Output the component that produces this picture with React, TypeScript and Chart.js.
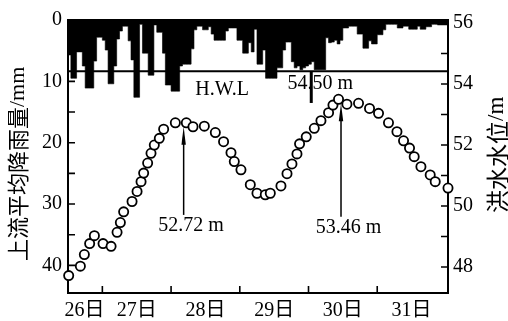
import { useEffect, useRef } from 'react';
import { Chart, registerables } from 'chart.js';

Chart.register(...registerables);

const FONT = "'Liberation Serif', 'Noto Sans CJK SC', serif";
const CJK_FONT = "'Noto Sans CJK SC', sans-serif";

// Hourly upstream mean rainfall (mm), starting at hour 12 of the 26th
const rainfallStartHour = 12;
const rainfallMm = [
  9.5, 5.7, 9.5, 9.5, 5.2, 5.2, 7.5, 11.1, 11.1, 11.1,
  6.7, 2.8, 2.8, 3.3, 4.9, 10.4, 10.4, 7.5, 3.1, 1.8,
  1.0, 1.0, 3.4, 6.5, 12.6, 12.6, 0.7, 5.4, 5.4, 9.0,
  9.0, 0.8, 2.0, 2.0, 5.4, 10.6, 10.6, 11.6, 11.6, 11.6,
  7.5, 7.2, 7.2, 7.2, 4.7, 1.6, 1.0, 1.0, 1.6, 1.6,
  1.1, 2.3, 3.3, 3.3, 3.3, 3.3, 1.8, 1.3, 1.3, 1.3,
  3.3, 3.3, 5.4, 5.4, 3.7, 5.2, 1.5, 7.2, 7.2, 4.9,
  9.5, 9.5, 9.5, 9.5, 7.8, 7.8, 4.9, 3.6, 3.6, 6.8,
  7.8, 7.5, 8.1, 7.8, 7.5, 7.2, 6.8, 8.1, 8.1, 8.1,
  8.1, 2.9, 3.7, 3.6, 3.3, 3.9, 3.3, 1.3, 1.3, 1.0,
  1.0, 1.0, 2.3, 2.3, 4.6, 4.6, 3.4, 3.9, 3.9, 2.4,
  2.4, 1.6, 0.7, 0.7, 0.7, 0.7, 1.3, 1.3, 1.0, 1.0,
  1.5, 1.5, 1.5, 1.0, 1.5, 1.5, 1.1, 1.1, 0.7, 0.7,
  0.8, 0.8, 0.8,
];

// Flood water level observations (day offset from start of the 26th, metres)
const levelDay = [
  0.51, 0.68, 0.738, 0.815, 0.884, 1.01, 1.127, 1.214, 1.262, 1.31,
  1.432, 1.505, 1.563, 1.601, 1.659, 1.708, 1.756, 1.829, 1.892, 2.062,
  2.222, 2.319, 2.484, 2.644, 2.764, 2.872, 2.92, 3.017, 3.153, 3.25,
  3.371, 3.444, 3.599, 3.687, 3.759, 3.832, 3.87, 3.967, 4.084, 4.181,
  4.292, 4.356, 4.437, 4.559, 4.728, 4.888, 5.019, 5.164, 5.287, 5.383,
  5.47, 5.538, 5.636, 5.771, 5.844, 6.03,
];
const levelM = [
  47.72, 48.03, 48.41, 48.77, 49.03, 48.77, 48.68, 49.14, 49.46, 49.81,
  50.15, 50.48, 50.8, 51.08, 51.41, 51.73, 52.0, 52.22, 52.52, 52.73,
  52.73, 52.6, 52.62, 52.41, 52.11, 51.75, 51.46, 51.19, 50.7, 50.42,
  50.37, 50.42, 50.66, 51.06, 51.38, 51.71, 52.04, 52.27, 52.55, 52.8,
  53.06, 53.31, 53.5, 53.34, 53.37, 53.2, 53.04, 52.73, 52.44, 52.14,
  51.9, 51.62, 51.29, 51.02, 50.8, 50.59,
];

const dayLabels = ['26日', '27日', '28日', '29日', '30日', '31日'];
const dayLabelPos = [0.74, 1.5, 2.5, 3.5, 4.5, 5.5];
const dayTicks = [1, 2, 3, 4, 5];
const rainTicks = [0, 10, 20, 30, 40];
const rainMinorTicks = [5, 10, 15, 20, 25, 30, 35, 40];
const levelTicks = [48, 50, 52, 54, 56];
const levelMinorTicks = [48, 49, 50, 51, 52, 53, 54, 55, 56];

const hwlLevel = 54.42;
const hwlText = 'H.W.L';
const hwlTextAt = { day: 2.353, level: 53.8 };
const hwlValueText = '54.50 m';
const hwlValueAt = { day: 4.171, level: 54.0 };
const hwlLeader = { day: 4.04, bottom: 53.38 };

const peakDay = [2.183, 4.473];
const peakTop = [52.6, 53.37];
const peakBottom = [49.71, 49.65];
const peakText = ['52.72 m', '53.46 m'];

const leftTitle = '上流平均降雨量/mm';
const rightTitle = '洪水水位/m';

// rainfall steps: each hour's value held from its start to the next hour
const rainSteps = rainfallMm
  .map((v, i) => ({ x: (rainfallStartHour + i) / 24, y: v }))
  .concat([{ x: (rainfallStartHour + rainfallMm.length) / 24, y: rainfallMm[rainfallMm.length - 1] }]);

// vertical title read bottom-to-top, laid out glyph by glyph
function drawVerticalTitle(ctx: any, text: string, cx: number, bottom: number, size: number) {
  ctx.save();
  ctx.fillStyle = '#000';
  ctx.textAlign = 'left';
  ctx.textBaseline = 'middle';
  ctx.translate(cx, bottom);
  ctx.rotate(-Math.PI / 2);
  let pos = 0;
  for (const ch of Array.from(text)) {
    const cjk = ch.charCodeAt(0) > 0x2e80;
    if (cjk) {
      ctx.font = `${size}px ${CJK_FONT}`;
      ctx.fillText(ch, pos, 0);
      pos += size;
    } else {
      ctx.font = `${size}px 'Liberation Serif', serif`;
      ctx.fillText(ch, pos, 0);
      pos += ctx.measureText(ch).width;
    }
  }
  ctx.restore();
}

const decor = {
  id: 'decor',
  beforeDatasetsDraw(chart: any) {
    const { ctx, chartArea: a, scales } = chart;
    const x = scales.x, yL = scales.yL, yR = scales.yR;
    ctx.save();
    ctx.strokeStyle = '#000';
    ctx.fillStyle = '#000';
    ctx.lineWidth = 2;
    ctx.strokeRect(a.left, a.top, a.right - a.left, a.bottom - a.top);
    ctx.lineWidth = 1.6;
    ctx.beginPath();
    dayTicks.forEach((d) => {
      const px = x.getPixelForValue(d);
      ctx.moveTo(px, a.bottom);
      ctx.lineTo(px, a.bottom - 7);
    });
    rainMinorTicks.forEach((v) => {
      const py = yL.getPixelForValue(v);
      ctx.moveTo(a.left, py);
      ctx.lineTo(a.left + 7, py);
    });
    levelMinorTicks.forEach((v) => {
      const py = yR.getPixelForValue(v);
      ctx.moveTo(a.right, py);
      ctx.lineTo(a.right - 7, py);
    });
    ctx.stroke();
    ctx.lineWidth = 2;
    const hy = yR.getPixelForValue(hwlLevel);
    ctx.beginPath();
    ctx.moveTo(a.left, hy);
    ctx.lineTo(a.right, hy);
    ctx.stroke();
    ctx.lineWidth = 3;
    const lx = x.getPixelForValue(hwlLeader.day);
    ctx.beginPath();
    ctx.moveTo(lx, hy);
    ctx.lineTo(lx, yR.getPixelForValue(hwlLeader.bottom));
    ctx.stroke();
    peakDay.forEach((d, i) => {
      const px = x.getPixelForValue(d);
      const t = yR.getPixelForValue(peakTop[i]);
      const b = yR.getPixelForValue(peakBottom[i]);
      ctx.lineWidth = 1.5;
      ctx.beginPath();
      ctx.moveTo(px, b);
      ctx.lineTo(px, t + 10);
      ctx.stroke();
      ctx.beginPath();
      ctx.moveTo(px, t);
      ctx.lineTo(px - 2.2, t + 18);
      ctx.lineTo(px + 2.2, t + 18);
      ctx.closePath();
      ctx.fill();
      ctx.font = `20px ${FONT}`;
      ctx.textAlign = 'center';
      ctx.textBaseline = 'middle';
      ctx.fillText(peakText[i], px + 7.5, b + 11);
    });
    ctx.font = `20px ${FONT}`;
    ctx.textAlign = 'left';
    ctx.textBaseline = 'middle';
    ctx.fillText(hwlText, x.getPixelForValue(hwlTextAt.day), yR.getPixelForValue(hwlTextAt.level));
    ctx.textAlign = 'center';
    ctx.fillText(hwlValueText, x.getPixelForValue(hwlValueAt.day), yR.getPixelForValue(hwlValueAt.level));
    ctx.restore();
  },
  afterDraw(chart: any) {
    const { ctx, chartArea: a } = chart;
    drawVerticalTitle(ctx, leftTitle, 18, 261, 22);
    drawVerticalTitle(ctx, rightTitle, a.right + 49, 213, 23);
  },
};

export default function App() {
  const ref = useRef<HTMLCanvasElement>(null);
  useEffect(() => {
    const chart = new Chart(ref.current as HTMLCanvasElement, {
      type: 'line',
      data: {
        datasets: [
          {
            label: 'level',
            data: levelDay.map((d, i) => ({ x: d, y: levelM[i] })),
            showLine: false,
            pointRadius: 4.6,
            pointBorderWidth: 1.8,
            pointBackgroundColor: '#fff',
            pointBorderColor: '#000',
            xAxisID: 'x',
            yAxisID: 'yR',
            clip: false,
            order: 0,
          } as any,
          {
            label: 'rain',
            data: rainSteps,
            stepped: 'after',
            fill: 'origin',
            backgroundColor: '#000',
            borderColor: '#000',
            borderWidth: 0.6,
            pointRadius: 0,
            xAxisID: 'x',
            yAxisID: 'yL',
            order: 1,
          } as any,
        ],
      },
      options: {
        animation: false,
        responsive: true,
        maintainAspectRatio: false,
        layout: { padding: { top: 20, left: 0, right: 0, bottom: 0 } },
        plugins: { legend: { display: false }, tooltip: { enabled: false } },
        scales: {
          x: {
            type: 'linear',
            position: 'bottom',
            offset: false,
            min: 0.5,
            max: 6.03,
            grid: { display: false, drawTicks: false },
            border: { display: false },
            afterBuildTicks: (s: any) => {
              s.ticks = dayLabelPos.map((v) => ({ value: v }));
            },
            afterFit: (s: any) => {
              s.height = 28;
            },
            ticks: {
              callback: (_v: any, i: number) => dayLabels[i],
              font: { family: FONT, size: 20 },
              color: '#000',
              padding: 6,
              maxRotation: 0,
              autoSkip: false,
            },
          },
          yL: {
            type: 'linear',
            position: 'left',
            reverse: true,
            min: 0,
            max: 44.5,
            grid: { display: false, drawTicks: false },
            border: { display: false },
            afterBuildTicks: (s: any) => {
              s.ticks = rainTicks.map((v) => ({ value: v }));
            },
            afterFit: (s: any) => {
              s.width = 68;
            },
            ticks: {
              font: { family: FONT, size: 20 },
              color: '#000',
              padding: 6,
            },
          },
          yR: {
            type: 'linear',
            position: 'right',
            min: 47.15,
            max: 56.1,
            grid: { display: false, drawTicks: false },
            border: { display: false },
            afterBuildTicks: (s: any) => {
              s.ticks = levelTicks.map((v) => ({ value: v }));
            },
            afterFit: (s: any) => {
              s.width = 60;
            },
            ticks: {
              font: { family: FONT, size: 20 },
              color: '#000',
              padding: 5,
            },
          },
        },
      },
      plugins: [decor],
    });
    return () => chart.destroy();
  }, []);
  return (
    <div style={{ position: 'absolute', left: 0, top: 0, width: 508, height: 321, background: '#fff' }}>
      <canvas ref={ref} />
    </div>
  );
}
